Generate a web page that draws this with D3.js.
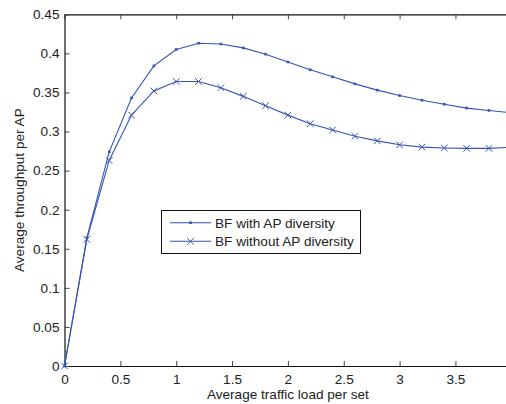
<!DOCTYPE html>
<html>
<head>
<meta charset="utf-8">
<script src="https://cdn.jsdelivr.net/npm/d3@7"></script>
<style>
  html, body { margin: 0; padding: 0; background: #fff; }
  text { font-family: "Liberation Sans", Arial, sans-serif; fill: #222; }
</style>
</head>
<body>
<svg id="chart" width="506" height="404"></svg>
<script>
// Traffic load values (x) and average throughput per AP for the two schemes
const loads = [0, 0.2, 0.4, 0.6, 0.8, 1.0, 1.2, 1.4, 1.6, 1.8, 2.0, 2.2, 2.4, 2.6, 2.8, 3.0, 3.2, 3.4, 3.6, 3.8, 4.0];
const withDiversity = [0, 0.164, 0.274, 0.343, 0.384, 0.405, 0.413, 0.412, 0.407, 0.399, 0.389, 0.379, 0.370, 0.361, 0.353, 0.346, 0.340, 0.335, 0.330, 0.327, 0.324];
const withoutDiversity = [0, 0.162, 0.263, 0.321, 0.352, 0.364, 0.364, 0.356, 0.345, 0.333, 0.321, 0.310, 0.302, 0.294, 0.288, 0.283, 0.280, 0.279, 0.2785, 0.2785, 0.280];
const seriesNames = ["BF with AP diversity", "BF without AP diversity"];
const xTicks = [0, 0.5, 1, 1.5, 2, 2.5, 3, 3.5];
const yTicks = [0, 0.05, 0.1, 0.15, 0.2, 0.25, 0.3, 0.35, 0.4, 0.45];
const xLabel = "Average traffic load per set";
const yLabel = "Average throughput per AP";

const svg = d3.select("#chart");
const plotLeft = 64.5, plotRight = 511.3, plotTop = 14.3, plotBottom = 366;
const lineColor = "#3454b4";
const fontSize = 13.6;

const x = d3.scaleLinear().domain([0, 4]).range([plotLeft, plotRight]);
const y = d3.scaleLinear().domain([0, 0.45]).range([plotBottom, plotTop]);

const fmt = d => d === 0 ? "0" : String(+d.toFixed(2));

// Box axes with inward ticks
const gx = svg.append("g").attr("transform", `translate(0,${plotBottom})`)
  .call(d3.axisBottom(x).tickValues(xTicks).tickFormat(fmt).tickSizeInner(-5).tickSizeOuter(0).tickPadding(8));
const gxTop = svg.append("g").attr("transform", `translate(0,${plotTop})`)
  .call(d3.axisTop(x).tickValues(xTicks).tickFormat("").tickSizeInner(-5).tickSizeOuter(0));
const gy = svg.append("g").attr("transform", `translate(${plotLeft},0)`)
  .call(d3.axisLeft(y).tickValues(yTicks).tickFormat(fmt).tickSizeInner(-5).tickSizeOuter(0).tickPadding(5));
const gyRight = svg.append("g").attr("transform", `translate(${plotRight},0)`)
  .call(d3.axisRight(y).tickValues(yTicks).tickFormat("").tickSizeInner(-5).tickSizeOuter(0));

[gx, gxTop, gy, gyRight].forEach(g => {
  g.select(".domain").attr("stroke", "#111").attr("stroke-width", 1.2);
  g.selectAll(".tick line").attr("stroke", "#444").attr("stroke-width", 1);
  g.selectAll(".tick text").attr("font-size", fontSize).attr("fill", "#222")
    .attr("font-family", "'Liberation Sans', Arial, sans-serif");
});

// Axis titles
svg.append("text").attr("x", (plotLeft + plotRight) / 2).attr("y", 399)
  .attr("text-anchor", "middle").attr("font-size", fontSize).text(xLabel);
svg.append("text").attr("transform", `translate(24,${(plotTop + plotBottom) / 2}) rotate(-90)`)
  .attr("text-anchor", "middle").attr("font-size", fontSize).text(yLabel);

const plot = svg.append("g");
const line = d3.line().x((d, i) => x(loads[i])).y(d => y(d));

function drawDot(g, cx, cy) {
  g.append("rect").attr("x", cx - 1.3).attr("y", cy - 1.3).attr("width", 2.6).attr("height", 2.6)
    .attr("fill", lineColor);
}
function drawCross(g, cx, cy) {
  const s = 3.3;
  g.append("path").attr("d", `M${cx - s},${cy - s}L${cx + s},${cy + s}M${cx - s},${cy + s}L${cx + s},${cy - s}`)
    .attr("stroke", lineColor).attr("stroke-width", 1).attr("fill", "none");
}

plot.append("path").datum(withDiversity).attr("d", line)
  .attr("fill", "none").attr("stroke", lineColor).attr("stroke-width", 1.1);
withDiversity.forEach((v, i) => drawDot(plot, x(loads[i]), y(v)));

plot.append("path").datum(withoutDiversity).attr("d", line)
  .attr("fill", "none").attr("stroke", lineColor).attr("stroke-width", 1.1);
withoutDiversity.forEach((v, i) => drawCross(plot, x(loads[i]), y(v)));

// Legend
const lg = svg.append("g");
lg.append("rect").attr("x", 161.5).attr("y", 210.5).attr("width", 199).attr("height", 43)
  .attr("fill", "#fff").attr("stroke", "#111").attr("stroke-width", 1);
const rows = [222.7, 241.3];
seriesNames.forEach((name, i) => {
  const ry = rows[i];
  lg.append("line").attr("x1", 170).attr("x2", 211).attr("y1", ry).attr("y2", ry)
    .attr("stroke", lineColor).attr("stroke-width", 1.1);
  if (i === 0) drawDot(lg, 190.5, ry); else drawCross(lg, 190.5, ry);
  lg.append("text").attr("x", 215).attr("y", ry + 4.8).attr("font-size", fontSize).text(name);
});
</script>
</body>
</html>
